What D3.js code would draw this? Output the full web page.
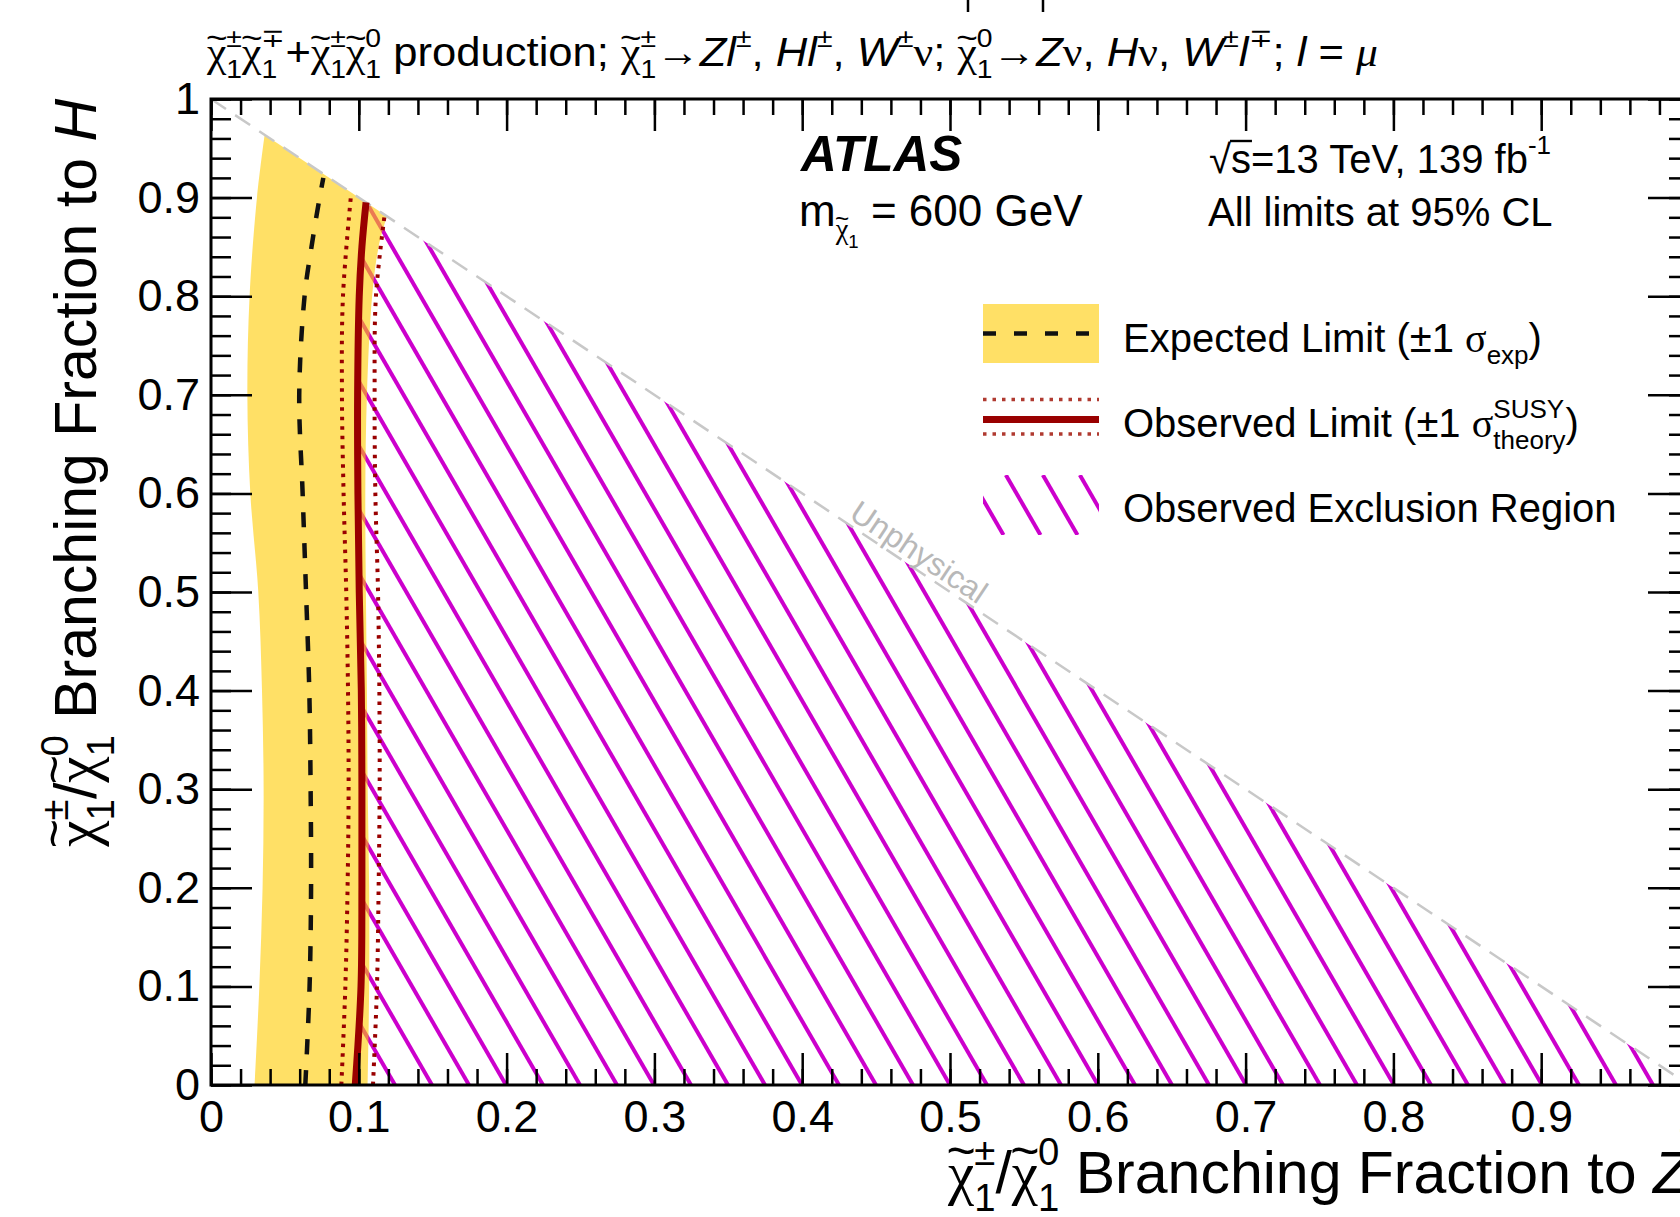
<!DOCTYPE html>
<html>
<head>
<meta charset="utf-8">
<script src="https://cdn.jsdelivr.net/npm/d3@7"></script>
<style>
html, body { margin: 0; padding: 0; background: #fff; overflow: hidden; }
svg { display: block; }
text { white-space: pre; }
</style>
</head>
<body>
<svg id="chart" width="1680" height="1217"></svg>
<script>
// contours (x = BF to Z, y = BF to H), bottom to top
var bandLowY  = [0, 0.1, 0.2, 0.3, 0.4, 0.5, 0.6, 0.7, 0.8, 0.9, 0.9637];
var bandLowX  = [0.0295, 0.0327, 0.0349, 0.0356, 0.0345, 0.032, 0.0266, 0.0246, 0.0261, 0.0311, 0.0363];
var bandHighY = [0, 0.1, 0.2, 0.3, 0.4, 0.5, 0.6, 0.7, 0.8, 0.85, 0.881];
var bandHighX = [0.106, 0.107, 0.107, 0.106, 0.1055, 0.1048, 0.1044, 0.1055, 0.109, 0.1134, 0.119];
var expY = [0, 0.1, 0.2, 0.3, 0.4, 0.5, 0.6, 0.7, 0.8, 0.85, 0.9, 0.92];
var expX = [0.0638, 0.0667, 0.0677, 0.0674, 0.0665, 0.0643, 0.062, 0.0597, 0.0633, 0.068, 0.0735, 0.076];
var obsY = [0, 0.1, 0.2, 0.3, 0.4, 0.5, 0.6, 0.7, 0.8, 0.85, 0.8951];
var obsX = [0.0976, 0.1015, 0.1021, 0.1021, 0.1017, 0.1003, 0.0994, 0.0992, 0.1003, 0.1021, 0.1049];
var obsDownY = [0, 0.1, 0.2, 0.3, 0.4, 0.5, 0.6, 0.7, 0.8, 0.9051];
var obsDownX = [0.0882, 0.0909, 0.0924, 0.0931, 0.0927, 0.0915, 0.0897, 0.0886, 0.0893, 0.0949];
var obsUpY = [0, 0.1, 0.2, 0.3, 0.4, 0.5, 0.6, 0.7, 0.8, 0.8825];
var obsUpX = [0.1096, 0.1123, 0.1134, 0.1141, 0.1139, 0.113, 0.1112, 0.1107, 0.1116, 0.1175];

var tickValues = [0, 0.1, 0.2, 0.3, 0.4, 0.5, 0.6, 0.7, 0.8, 0.9, 1];
var tickLabels = ['0', '0.1', '0.2', '0.3', '0.4', '0.5', '0.6', '0.7', '0.8', '0.9', '1'];
var minorTicks = d3.range(0, 51).map(function(i) { return i / 50; });

var SANS = "'Liberation Sans', Arial, Helvetica, sans-serif";
var SERIF = "'Liberation Serif', 'Times New Roman', serif";
var MAGENTA = '#cc00cc', DARKRED = '#990000';

var svg = d3.select('#chart');
var x = d3.scaleLinear().domain([0, 1]).range([211, 1689]);
var y = d3.scaleLinear().domain([0, 1]).range([1085, 99]);

function pts(xs, ys) {
  return xs.map(function(v, i) { return [x(v), y(ys[i])]; });
}
var line = d3.line().curve(d3.curveCatmullRom.alpha(0.5));

var defs = svg.append('defs');
defs.append('clipPath').attr('id', 'plotClip').append('rect')
  .attr('x', x(0)).attr('y', y(1)).attr('width', x(1) - x(0)).attr('height', y(0) - y(1));

// observed exclusion: right of observed limit, below the x+y=1 line
var obsPath = line(pts(obsX, obsY));
defs.append('clipPath').attr('id', 'hatchClip').append('path')
  .attr('d', obsPath + 'L' + x(1) + ',' + y(0) + 'Z');
defs.append('clipPath').attr('id', 'legHatchClip').append('rect')
  .attr('x', 983).attr('y', 475).attr('width', 116).attr('height', 60);

var slope = Math.tan(60 * Math.PI / 180);
function hatch(g, yb, yt, x0, n, step) {
  for (var k = 0; k < n; k++) {
    var xb = x0 + k * step;
    g.append('line').attr('x1', xb).attr('y1', yb)
      .attr('x2', xb - (yb - yt) / slope).attr('y2', yt)
      .attr('stroke', MAGENTA).attr('stroke-width', 4);
  }
}

var plot = svg.append('g').attr('clip-path', 'url(#plotClip)');
hatch(plot.append('g').attr('clip-path', 'url(#hatchClip)'), y(0), y(1), x(0) + 36, 62, 37);

var band = line(pts(bandLowX, bandLowY)) +
  line(pts(bandHighX, bandHighY).reverse()).replace('M', 'L') + 'Z';
plot.append('path').attr('d', band).attr('fill', '#ffcc00').attr('fill-opacity', 0.6);

plot.append('line')
  .attr('x1', x(0)).attr('y1', y(1)).attr('x2', x(1)).attr('y2', y(0))
  .attr('stroke', '#c8c8c8').attr('stroke-width', 2.5).attr('stroke-dasharray', '18,11');

plot.append('path').attr('d', line(pts(obsDownX, obsDownY))).attr('fill', 'none')
  .attr('stroke', DARKRED).attr('stroke-width', 4).attr('stroke-dasharray', '3.5,6');
plot.append('path').attr('d', line(pts(obsUpX, obsUpY))).attr('fill', 'none')
  .attr('stroke', DARKRED).attr('stroke-width', 4).attr('stroke-dasharray', '3.5,6');
plot.append('path').attr('d', obsPath).attr('fill', 'none')
  .attr('stroke', DARKRED).attr('stroke-width', 7);
plot.append('path').attr('d', line(pts(expX, expY))).attr('fill', 'none')
  .attr('stroke', '#111').attr('stroke-width', 4.5).attr('stroke-dasharray', '15,16');

// "Unphysical" along the diagonal
var ang = Math.atan2(y(0) - y(1), x(1) - x(0));
var ux = x(0.473) + 5 * Math.sin(ang), uy = y(1 - 0.473) - 5 * Math.cos(ang);
svg.append('text').attr('transform', 'translate(' + ux + ',' + uy + ') rotate(' + ang * 180 / Math.PI + ')')
  .attr('text-anchor', 'middle').attr('font-family', SANS).attr('font-size', 32)
  .attr('fill', '#b8b8b8').text('Unphysical');

// axes
function styleAxis(g) {
  g.select('.domain').remove();
  g.selectAll('.tick line').attr('stroke', '#000').attr('stroke-width', 2.5);
  g.attr('font-family', SANS).attr('font-size', 45);
  g.selectAll('.tick text').attr('fill', '#000');
}
function fmt(d) { return tickLabels[tickValues.indexOf(d)]; }

svg.append('g').attr('transform', 'translate(0,' + y(0) + ')')
  .call(d3.axisBottom(x).tickValues(minorTicks).tickSize(-16).tickFormat('')).call(styleAxis);
svg.append('g').attr('transform', 'translate(0,' + y(0) + ')')
  .call(d3.axisBottom(x).tickValues(tickValues).tickSize(-32).tickPadding(15).tickFormat(fmt)).call(styleAxis);
svg.append('g').attr('transform', 'translate(0,' + y(1) + ')')
  .call(d3.axisTop(x).tickValues(minorTicks).tickSize(-16).tickFormat('')).call(styleAxis);
svg.append('g').attr('transform', 'translate(0,' + y(1) + ')')
  .call(d3.axisTop(x).tickValues(tickValues).tickSize(-32).tickFormat('')).call(styleAxis);
svg.append('g').attr('transform', 'translate(' + x(0) + ',0)')
  .call(d3.axisLeft(y).tickValues(minorTicks).tickSize(-20).tickFormat('')).call(styleAxis);
svg.append('g').attr('transform', 'translate(' + x(0) + ',0)')
  .call(d3.axisLeft(y).tickValues(tickValues).tickSize(-41).tickPadding(11).tickFormat(fmt)).call(styleAxis);
svg.append('g').attr('transform', 'translate(' + x(1) + ',0)')
  .call(d3.axisRight(y).tickValues(minorTicks).tickSize(-20).tickFormat('')).call(styleAxis);
svg.append('g').attr('transform', 'translate(' + x(1) + ',0)')
  .call(d3.axisRight(y).tickValues(tickValues).tickSize(-41).tickFormat('')).call(styleAxis);

svg.append('rect').attr('x', x(0)).attr('y', y(1)).attr('width', x(1) - x(0)).attr('height', y(0) - y(1))
  .attr('fill', 'none').attr('stroke', '#000').attr('stroke-width', 3);

// small marks left over from the figure above
[968, 1043].forEach(function(mx) {
  svg.append('line').attr('x1', mx).attr('x2', mx).attr('y1', 0).attr('y2', 12)
    .attr('stroke', '#000').attr('stroke-width', 2.5);
});

// latex-ish text: parts with italic/bold/greek, tilde, overline, sup and sub
function rich(g, parts, size, x0, y0) {
  var cx = x0;
  parts.forEach(function(p) {
    if (typeof p === 'string') p = { t: p };
    var w = 0;
    if (p.t) {
      var t = g.append('text').attr('x', cx).attr('y', y0).attr('font-size', size)
        .attr('font-family', p.g ? SERIF : SANS).attr('fill', '#000').text(p.t);
      if (p.i) t.attr('font-style', 'italic');
      if (p.b) t.attr('font-weight', 'bold');
      w = t.node().getComputedTextLength();
      if (p.tilde) {
        g.append('text').attr('x', cx + w / 2).attr('y', y0 - size * 0.42)
          .attr('text-anchor', 'middle').attr('font-family', SANS)
          .attr('font-size', size * 0.85).text('~');
      }
      if (p.over) {
        g.append('line').attr('x1', cx - 1).attr('x2', cx + w + 1)
          .attr('y1', y0 - size * 0.8).attr('y2', y0 - size * 0.8)
          .attr('stroke', '#000').attr('stroke-width', size * 0.06);
      }
    }
    cx += w;
    var ws = 0;
    if (p.sup) ws = rich(g, [].concat(p.sup), size * 0.65, cx, y0 - size * 0.47) - cx;
    if (p.sub) ws = Math.max(ws, rich(g, [].concat(p.sub), size * 0.65, cx, y0 + size * 0.3) - cx);
    cx += ws;
  });
  return cx;
}
function chi(sup, sub) { return { t: 'χ', g: true, tilde: true, sup: sup, sub: sub }; }

// title, squeezed to the width it has in the figure
var title = svg.append('g');
var tw = rich(title, [chi('±', '1'), chi('∓', '1'), '+', chi('±', '1'), chi('0', '1'),
  ' production; ', chi('±', '1'), '→', { t: 'Z', i: 1 }, { t: 'l', i: 1, sup: '±' }, ', ',
  { t: 'H', i: 1 }, { t: 'l', i: 1, sup: '±' }, ', ', { t: 'W', i: 1, sup: '±' }, { t: 'ν', g: 1 }, '; ',
  chi('0', '1'), '→', { t: 'Z', i: 1 }, { t: 'ν', g: 1 }, ', ', { t: 'H', i: 1 }, { t: 'ν', g: 1 }, ', ',
  { t: 'W', i: 1, sup: '±' }, { t: 'l', i: 1, sup: '∓' }, '; ', { t: 'l', i: 1 }, ' = ', { t: 'μ', i: 1, g: 1 }], 40, 0, 0);
title.attr('transform', 'translate(207,66) scale(' + (1171 / tw) + ',1)');

// axis titles
var xt = svg.append('g');
var xw = rich(xt, [chi('±', '1'), '/', chi('0', '1'), ' Branching Fraction to ', { t: 'Z', i: 1 }], 59, 0, 0);
xt.attr('transform', 'translate(' + (x(1) - xw) + ',1193)');
var yt = svg.append('g');
var yw = rich(yt, [chi('±', '1'), '/', chi('0', '1'), ' Branching Fraction to ', { t: 'H', i: 1 }], 59, 0, 0);
yt.attr('transform', 'translate(96,' + (y(1) + yw) + ') rotate(-90)');

// labels
var lab = svg.append('g');
rich(lab, [{ t: 'ATLAS', b: 1, i: 1 }], 49.5, 801, 171);
rich(lab, [{ t: 'm', sub: [chi(null, '1')] }, ' = 600 GeV'], 44, 799, 226);
rich(lab, ['√', { t: 's', over: 1 }, '=13 TeV, 139 ', { t: 'fb', sup: '-1' }], 40, 1209, 173);
rich(lab, ['All limits at 95% CL'], 40, 1208, 226);

// legend
var leg = svg.append('g');
leg.append('rect').attr('x', 983).attr('y', 304).attr('width', 116).attr('height', 59)
  .attr('fill', '#ffcc00').attr('fill-opacity', 0.6);
leg.append('line').attr('x1', 983).attr('x2', 1099).attr('y1', 333.5).attr('y2', 333.5)
  .attr('stroke', '#111').attr('stroke-width', 4.5).attr('stroke-dasharray', '13,18');
[399.5, 434].forEach(function(ly) {
  leg.append('line').attr('x1', 983).attr('x2', 1099).attr('y1', ly).attr('y2', ly)
    .attr('stroke', '#b03a30').attr('stroke-width', 3.5).attr('stroke-dasharray', '3.5,6');
});
leg.append('line').attr('x1', 983).attr('x2', 1099).attr('y1', 419.5).attr('y2', 419.5)
  .attr('stroke', DARKRED).attr('stroke-width', 7);
hatch(leg.append('g').attr('clip-path', 'url(#legHatchClip)'), 535, 475, 1003.5 - 37, 5, 37);
rich(leg, ['Expected Limit (±1 ', { t: 'σ', g: 1, sub: 'exp' }, ')'], 40, 1123, 352);
rich(leg, ['Observed Limit (±1 ', { t: 'σ', g: 1, sup: 'SUSY', sub: 'theory' }, ')'], 40, 1123, 437);
rich(leg, ['Observed Exclusion Region'], 40, 1123, 522);
</script>
</body>
</html>
